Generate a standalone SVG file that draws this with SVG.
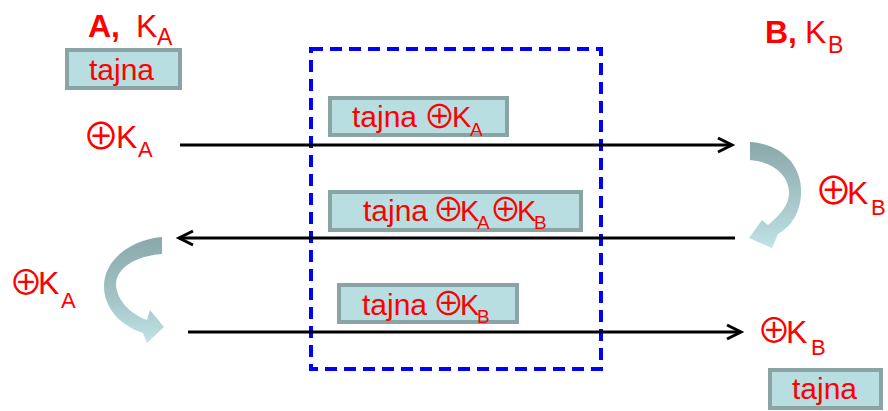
<svg xmlns="http://www.w3.org/2000/svg" width="888" height="411" viewBox="0 0 888 411">
<style>
.t{font-family:"Liberation Sans",Arial,sans-serif;fill:#ff0000}
.o{font-family:"Noto Sans CJK JP","DejaVu Sans",sans-serif}
.box{fill:#b8dee2;stroke:#8aa4a6;stroke-width:4}
.ln{stroke:#000;stroke-width:3;fill:none}
.b30{font-size:30px}
.k29{font-size:29px}
.s19{font-size:19px}
.m32{font-size:32px}
.s22{font-size:22px}
.ob{font-size:32px}
</style>
<defs>
<marker id="ah" markerUnits="userSpaceOnUse" markerWidth="20" markerHeight="20" refX="0" refY="0" viewBox="-16 -10 20 20" orient="auto" overflow="visible">
<path d="M-14,-7 L0,0 L-14,7" fill="none" stroke="#000" stroke-width="3"/>
</marker>
<linearGradient id="gR" x1="0" y1="0" x2="0" y2="1">
<stop offset="0" stop-color="#8aa8aa"/>
<stop offset="0.6" stop-color="#a9c9cc"/>
<stop offset="1" stop-color="#bfe3e7"/>
</linearGradient>
<linearGradient id="gL" x1="0" y1="0" x2="0" y2="1">
<stop offset="0" stop-color="#8aa8aa"/>
<stop offset="0.5" stop-color="#9fbfc2"/>
<stop offset="1" stop-color="#bfe3e7"/>
</linearGradient>
</defs>
<rect width="888" height="411" fill="#fff"/>

<g id="zone">
<rect x="311" y="49" width="290" height="320" fill="none" stroke="#0000ff" stroke-width="4" stroke-dasharray="12 7"/>
</g>

<g id="connectors">
<line class="ln" x1="180" y1="145" x2="732" y2="145" marker-end="url(#ah)"/>
<line class="ln" x1="735" y1="238" x2="179" y2="238" marker-end="url(#ah)"/>
<line class="ln" x1="188" y1="332" x2="741" y2="332" marker-end="url(#ah)"/>
<path id="curveR" d="M750,142 C782,144 803,166 801,195 C800,212 792,226 778,234 L772,248 L749,238 L762,220 L768,225 C780,215 789,205 789,193 C789,175 773,162 750,160 Z" fill="url(#gR)"/>
<path id="curveL" d="M162,237 C128,240 103,262 104,288 C105,310 122,326 143,333 L147,343 L164,327 L150,310 L147,320 C130,314 117,300 116,285 C116,268 135,256 162,254 Z" fill="url(#gL)"/>
</g>

<g id="nodeA">
<text class="t m32"><tspan x="88" y="37" font-weight="bold">A,</tspan><tspan x="136" y="37">K</tspan><tspan x="157" y="45" font-size="23">A</tspan></text>
</g>
<g id="boxA">
<rect class="box" x="67" y="50" width="113" height="38"/>
<text class="t b30" x="89" y="80">tajna</text>
</g>
<g id="opA1">
<text class="t m32"><tspan class="o" x="82.5" y="149.5" font-size="37">⊕</tspan><tspan x="116" y="148">K</tspan><tspan class="s22" x="138" y="157">A</tspan></text>
</g>
<g id="opA2">
<text class="t m32"><tspan class="o" x="9" y="294.5" font-size="34">⊕</tspan><tspan x="38" y="294">K</tspan><tspan class="s22" x="61" y="308">A</tspan></text>
</g>

<g id="nodeB">
<text class="t m32"><tspan x="765" y="43" font-weight="bold">B,</tspan><tspan x="805" y="43">K</tspan><tspan x="828" y="53" font-size="23">B</tspan></text>
</g>
<g id="opB1">
<text class="t m32"><tspan class="o" x="814.5" y="203.8" font-size="38">⊕</tspan><tspan x="847" y="204">K</tspan><tspan class="s22" x="871" y="215">B</tspan></text>
</g>
<g id="opB2">
<text class="t m32"><tspan class="o" x="757" y="342.5" font-size="34">⊕</tspan><tspan x="786" y="343">K</tspan><tspan class="s22" x="811" y="355">B</tspan></text>
</g>
<g id="boxB">
<rect class="box" x="770" y="370" width="111" height="38"/>
<text class="t b30" x="792" y="399">tajna</text>
</g>

<g id="msg1">
<rect class="box" x="330" y="98" width="177" height="37"/>
<text class="t b30"><tspan x="352" y="127">tajna</tspan><tspan class="o ob" x="423.5" y="128">⊕</tspan><tspan class="k29" x="452" y="127">K</tspan><tspan class="s19" x="470" y="136">A</tspan></text>
</g>
<g id="msg2">
<rect class="box" x="330" y="192" width="251" height="38"/>
<text class="t b30"><tspan x="363" y="221">tajna</tspan><tspan class="o ob" x="432.5" y="221">⊕</tspan><tspan class="k29" x="460" y="221">K</tspan><tspan class="s19" x="477" y="229">A</tspan><tspan class="o ob" x="489.5" y="221">⊕</tspan><tspan class="k29" x="517" y="221">K</tspan><tspan class="s19" x="534" y="229">B</tspan></text>
</g>
<g id="msg3">
<rect class="box" x="339" y="285" width="178" height="37"/>
<text class="t b30"><tspan x="362" y="315">tajna</tspan><tspan class="o ob" x="432.5" y="315">⊕</tspan><tspan class="k29" x="460" y="315">K</tspan><tspan class="s19" x="477" y="323">B</tspan></text>
</g>
</svg>
